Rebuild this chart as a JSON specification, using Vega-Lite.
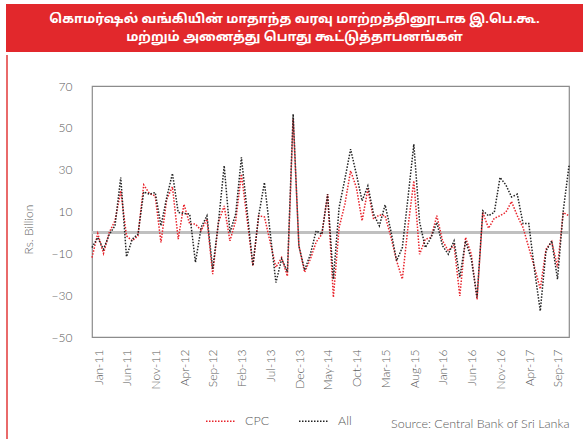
{
  "$schema": "https://vega.github.io/schema/vega-lite/v6.json",
  "background": "white",
  "padding": {"left": 6, "top": 4, "right": 0, "bottom": 0},
  "config": {"font": "Lato", "concat": {"spacing": 0}},
  "vconcat": [
    {
      "width": 577,
      "height": 48,
      "view": {"fill": "#e2282c", "stroke": null},
      "data": {"values": [
        {"line": 1, "text": "கொமர்ஷல் வங்கியின் மாதாந்த வரவு மாற்றத்தினூடாக இ.பெ.கூ."},
        {"line": 2, "text": "மற்றும் அனைத்து பொது கூட்டுத்தாபனங்கள்"}
      ]},
      "mark": {"type": "text", "color": "white", "fontWeight": "bold", "fontSize": 13, "font": "Noto Sans Tamil, Lohit Tamil, Noto Sans, sans-serif"},
      "encoding": {
        "y": {"field": "line", "type": "ordinal", "scale": {"type": "point", "padding": 0.833}, "axis": null},
        "text": {"field": "text"}
      }
    },
    {
      "spacing": 13,
      "center": true,
      "hconcat": [
        {
          "width": 2,
          "height": 407,
          "view": {"fill": "#e96a6a", "stroke": null},
          "data": {"values": [{"edge": 1}]},
          "mark": {"type": "rect", "color": "#e96a6a"},
          "encoding": {}
        },
        {
          "width": 477,
          "height": 251,
          "view": {"stroke": "#8c8c8c", "strokeWidth": 1.2},
          "title": {"text": " ", "fontSize": 2, "offset": 25},
          "data": {"values": [
            {"month": "Jan-11", "CPC": -12, "All": -7.2},
            {"month": "Feb-11", "CPC": -0.5, "All": -2.4},
            {"month": "Mar-11", "CPC": -10, "All": -8},
            {"month": "Apr-11", "CPC": 0, "All": -1},
            {"month": "May-11", "CPC": 5.6, "All": 3.2},
            {"month": "Jun-11", "CPC": 19.9, "All": 26.3},
            {"month": "Jul-11", "CPC": -1.6, "All": -11.6},
            {"month": "Aug-11", "CPC": -4, "All": -3.2},
            {"month": "Sep-11", "CPC": -1.6, "All": -0.8},
            {"month": "Oct-11", "CPC": 22.8, "All": 19.4},
            {"month": "Nov-11", "CPC": 18.6, "All": 18.3},
            {"month": "Dec-11", "CPC": 17.5, "All": 19.1},
            {"month": "Jan-12", "CPC": -4.8, "All": 3.2},
            {"month": "Feb-12", "CPC": 15.9, "All": 16.7},
            {"month": "Mar-12", "CPC": 21.8, "All": 28.2},
            {"month": "Apr-12", "CPC": -3.2, "All": 9.6},
            {"month": "May-12", "CPC": 13.5, "All": 9.1},
            {"month": "Jun-12", "CPC": 4, "All": 8.8},
            {"month": "Jul-12", "CPC": 4, "All": -14.3},
            {"month": "Aug-12", "CPC": 1, "All": 2.5},
            {"month": "Sep-12", "CPC": 6.4, "All": 8},
            {"month": "Oct-12", "CPC": -19.9, "All": -17.5},
            {"month": "Nov-12", "CPC": 4.8, "All": 4.8},
            {"month": "Dec-12", "CPC": 12.7, "All": 31.9},
            {"month": "Jan-13", "CPC": -4, "All": 0},
            {"month": "Feb-13", "CPC": 5.6, "All": 8.8},
            {"month": "Mar-13", "CPC": 27.9, "All": 35.9},
            {"month": "Apr-13", "CPC": 6, "All": 10},
            {"month": "May-13", "CPC": -15.9, "All": -15.9},
            {"month": "Jun-13", "CPC": 8, "All": 8},
            {"month": "Jul-13", "CPC": 7.5, "All": 23.9},
            {"month": "Aug-13", "CPC": -4.6, "All": 0},
            {"month": "Sep-13", "CPC": -16.7, "All": -23.9},
            {"month": "Oct-13", "CPC": -12, "All": -12.7},
            {"month": "Nov-13", "CPC": -20.9, "All": -18.8},
            {"month": "Dec-13", "CPC": 54.5, "All": 56.6},
            {"month": "Jan-14", "CPC": -6.4, "All": -6.4},
            {"month": "Feb-14", "CPC": -19, "All": -18},
            {"month": "Mar-14", "CPC": -12.7, "All": -10.4},
            {"month": "Apr-14", "CPC": -4.6, "All": 0.8},
            {"month": "May-14", "CPC": -0.8, "All": -0.8},
            {"month": "Jun-14", "CPC": 18.3, "All": 18.3},
            {"month": "Jul-14", "CPC": -31, "All": -22.3},
            {"month": "Aug-14", "CPC": 2.4, "All": 12},
            {"month": "Sep-14", "CPC": 13.5, "All": 25.5},
            {"month": "Oct-14", "CPC": 29.5, "All": 39.8},
            {"month": "Nov-14", "CPC": 21.5, "All": 27.9},
            {"month": "Dec-14", "CPC": 5.6, "All": 15.1},
            {"month": "Jan-15", "CPC": 20.7, "All": 22.3},
            {"month": "Feb-15", "CPC": 6.4, "All": 8.8},
            {"month": "Mar-15", "CPC": 8.4, "All": 3.2},
            {"month": "Apr-15", "CPC": 8, "All": 13.2},
            {"month": "May-15", "CPC": -2, "All": 0.8},
            {"month": "Jun-15", "CPC": -13.5, "All": -13.5},
            {"month": "Jul-15", "CPC": -22.3, "All": -7.2},
            {"month": "Aug-15", "CPC": 3, "All": 17},
            {"month": "Sep-15", "CPC": 24.7, "All": 42.2},
            {"month": "Oct-15", "CPC": -10.4, "All": 5},
            {"month": "Nov-15", "CPC": -3.2, "All": -7.2},
            {"month": "Dec-15", "CPC": -2.4, "All": -2.4},
            {"month": "Jan-16", "CPC": 8, "All": 4.8},
            {"month": "Feb-16", "CPC": -4, "All": -6.4},
            {"month": "Mar-16", "CPC": -8.8, "All": -10.4},
            {"month": "Apr-16", "CPC": -6, "All": -4},
            {"month": "May-16", "CPC": -30.3, "All": -21.5},
            {"month": "Jun-16", "CPC": -2.4, "All": -4},
            {"month": "Jul-16", "CPC": -10.4, "All": -12.7},
            {"month": "Aug-16", "CPC": -32, "All": -31},
            {"month": "Sep-16", "CPC": 9.6, "All": 10.4},
            {"month": "Oct-16", "CPC": 2, "All": 8},
            {"month": "Nov-16", "CPC": 6.8, "All": 9.6},
            {"month": "Dec-16", "CPC": 8, "All": 26.3},
            {"month": "Jan-17", "CPC": 9.6, "All": 22.8},
            {"month": "Feb-17", "CPC": 14.8, "All": 17},
            {"month": "Mar-17", "CPC": 8, "All": 18.3},
            {"month": "Apr-17", "CPC": 2.4, "All": 4.3},
            {"month": "May-17", "CPC": -7.2, "All": 4.3},
            {"month": "Jun-17", "CPC": -16.7, "All": -18},
            {"month": "Jul-17", "CPC": -27, "All": -37.5},
            {"month": "Aug-17", "CPC": -8, "All": -8.8},
            {"month": "Sep-17", "CPC": -4.3, "All": -4},
            {"month": "Oct-17", "CPC": -16.7, "All": -22.3},
            {"month": "Nov-17", "CPC": 9.6, "All": 10.4},
            {"month": "Dec-17", "CPC": 8, "All": 31.9}
          ]},
          "layer": [
            {
              "mark": {"type": "rule", "color": "#c0c0c0", "strokeWidth": 2},
              "encoding": {"y": {"datum": 0, "type": "quantitative"}}
            },
            {
              "transform": [{"fold": ["CPC", "All"], "as": ["series", "value"]}],
              "mark": {"type": "line", "strokeWidth": 1.5, "strokeDash": [1.5, 1.5]},
              "encoding": {
                "x": {
                  "field": "month", "type": "ordinal", "sort": null,
                  "scale": {"type": "point", "padding": 0},
                  "axis": {
                    "labelExpr": "indexof(['Jan-11','Jun-11','Nov-11','Apr-12','Sep-12','Feb-13','Jul-13','Dec-13','May-14','Oct-14','Mar-15','Aug-15','Jan-16','Jun-16','Nov-16','Apr-17','Sep-17'], datum.value) >= 0 ? datum.value : ''",
                    "labelAngle": -90, "labelColor": "#595959", "labelFontSize": 12, "labelFontWeight": 300,
                    "labelPadding": 12, "labelOverlap": false, "labelBound": false, "labelFlush": false, "labelOffset": 6,
                    "ticks": false, "domain": false, "grid": false,
                    "title": "Source: Central Bank of Sri Lanka", "titleAnchor": "end", "titleColor": "#595959",
                    "titleFontSize": 12.5, "titleFontWeight": 300, "titlePadding": 28
                  }
                },
                "y": {
                  "field": "value", "type": "quantitative",
                  "scale": {"domain": [-50, 70], "nice": false},
                  "axis": {
                    "values": [-50, -30, -10, 10, 30, 50, 70],
                    "grid": false, "ticks": false, "domain": false,
                    "labelColor": "#595959", "labelFontSize": 12, "labelFontWeight": 300, "labelPadding": 20,
                    "title": "Rs. Billion", "titleColor": "#595959", "titleFontSize": 12, "titleFontWeight": 300,
                    "titlePadding": 16, "titleY": 143
                  }
                },
                "color": {
                  "field": "series", "type": "nominal",
                  "scale": {"domain": ["CPC", "All"], "range": ["#e8232b", "#222222"]},
                  "legend": {
                    "orient": "none", "legendX": 199, "legendY": 401, "direction": "horizontal", "title": null,
                    "symbolType": "stroke", "symbolSize": 900, "symbolStrokeWidth": 1.5, "symbolDash": [1.5, 1.5],
                    "labelFontSize": 12.5, "labelFontWeight": 300, "labelColor": "#595959", "columnPadding": 26, "labelOffset": 8
                  }
                }
              }
            }
          ]
        }
      ]
    }
  ]
}
